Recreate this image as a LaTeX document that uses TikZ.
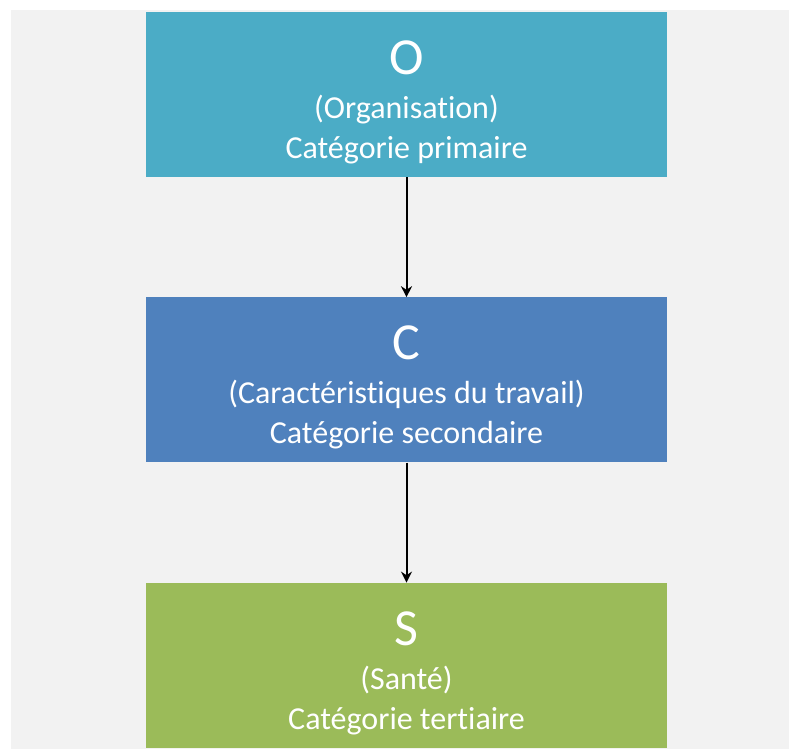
\documentclass[tikz,border=0pt]{standalone}
\usepackage{fontspec}
\setmainfont[Ligatures=NoCommon]{Carlito}
\usetikzlibrary{positioning, arrows.meta}

\definecolor{orgcyan}{HTML}{4BACC6}
\definecolor{carblue}{HTML}{4F81BD}
\definecolor{santegreen}{HTML}{9BBB59}
\definecolor{backgray}{HTML}{F2F2F2}

\newcommand{\catletter}[1]{{\fontsize{52}{52}\selectfont\rule{0pt}{49pt}#1}}

\begin{document}
\begin{tikzpicture}[x=1pt, y=1pt,
    catbox/.style={minimum width=521pt, minimum height=165pt, inner sep=0pt,
        text=white, align=center, font=\fontsize{32}{40}\selectfont},
    catarrow/.style={-{Stealth[length=11pt, width=11pt]}, line width=2pt, black}]
    % Draw the page and the gray back
    \useasboundingbox (0,0) rectangle (789,-749);
    \fill[backgray] (11,-10) rectangle (789,-749);

    % Draw the three categories
    \node[catbox, fill=orgcyan] (orga) at (406.5,-94.5)
        {\catletter{O}\\[4pt](Organisation)\\Catégorie primaire};
    \node[catbox, fill=carblue, below=120pt of orga] (carac)
        {\catletter{C}\\[4pt](Caractéristiques du travail)\\Catégorie secondaire};
    \node[catbox, fill=santegreen, below=120pt of carac] (sante)
        {\catletter{S}\\[4pt](Santé)\\Catégorie tertiaire};

    % Draw the arrows
    \draw[catarrow] (orga) -- (carac);
    \draw[catarrow] (carac) -- (sante);
\end{tikzpicture}
\end{document}
